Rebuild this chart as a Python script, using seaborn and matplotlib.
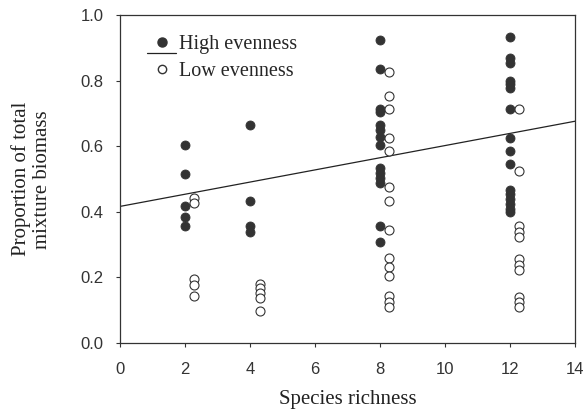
import numpy as np
import pandas as pd
import matplotlib
matplotlib.use('Agg')
import matplotlib.pyplot as plt
import seaborn as sns
from matplotlib.lines import Line2D

# Valores (riqueza de espécies x proporção da biomassa)
rich_high = [2]*5 + [4]*4 + [8]*14 + [12]*16
prop_high = [0.605, 0.516, 0.417, 0.386, 0.356,
             0.667, 0.435, 0.356, 0.340,
             0.924, 0.835, 0.715, 0.705, 0.667, 0.650, 0.630, 0.605,
             0.534, 0.518, 0.503, 0.488, 0.356, 0.307,
             0.935, 0.870, 0.855, 0.800, 0.790, 0.780, 0.715, 0.626,
             0.585, 0.546, 0.468, 0.455, 0.440, 0.425, 0.410, 0.400]
rich_low = [2.28]*5 + [4.31]*5 + [8.29]*14 + [12.29]*11
prop_low = [0.443, 0.427, 0.195, 0.177, 0.142,
            0.180, 0.167, 0.152, 0.137, 0.098,
            0.827, 0.755, 0.715, 0.626, 0.585, 0.475, 0.435, 0.346,
            0.259, 0.233, 0.206, 0.142, 0.126, 0.111,
            0.715, 0.524, 0.358, 0.340, 0.325, 0.256, 0.238, 0.223,
            0.140, 0.126, 0.111]

# Linha de regressão (intercepto e inclinação estimados)
reg_x = [0, 14]
reg_y = [0.417, 0.677]

df_high = pd.DataFrame({'x': rich_high, 'y': prop_high})
df_low = pd.DataFrame({'x': rich_low, 'y': prop_low})
df_reg = pd.DataFrame({'x': reg_x, 'y': reg_y})

sns.set_style('ticks')
plt.rcParams['font.family'] = ['Liberation Sans', 'DejaVu Sans']

fig = plt.figure(figsize=(5.84, 4.12), dpi=100)
ax = fig.add_axes([0.2055, 0.1675, 0.779, 0.795])

sns.lineplot(data=df_reg, x='x', y='y', ax=ax, color='#222222', linewidth=0.9)
sns.scatterplot(data=df_high, x='x', y='y', ax=ax, color='#333333',
                edgecolor='#333333', s=42, linewidth=0.6, zorder=3)
sns.scatterplot(data=df_low, x='x', y='y', ax=ax, facecolor='white',
                edgecolor='#333333', s=42, linewidth=0.8, zorder=3)

ax.set_xlim(0, 14)
ax.set_ylim(0, 1.0)
ax.set_xticks(range(0, 15, 2))
ax.set_yticks(np.arange(0, 1.01, 0.2))
ax.set_yticklabels([f'{v:.1f}' for v in np.arange(0, 1.01, 0.2)])
ax.tick_params(direction='out', length=3, width=0.8, labelsize=12,
               colors='#333333', labelcolor='#333333')
ax.tick_params(axis='y', pad=9)
ax.tick_params(axis='x', pad=11)
for s in ax.spines.values():
    s.set_color('#333333')
    s.set_linewidth(0.9)

ax.set_xlabel('Species richness', fontsize=15, family='Liberation Serif',
              color='#222222', labelpad=9)
ax.set_ylabel('Proportion of total\nmixture biomass', fontsize=15,
              family='Liberation Serif', color='#222222', labelpad=20,
              linespacing=1.2)

# Legenda
handles = [Line2D([], [], marker='o', ls='', color='#333333', markersize=6.5),
           Line2D([], [], marker='o', ls='', markerfacecolor='white',
                  markeredgecolor='#333333', markersize=6)]
leg = ax.legend(handles, ['High evenness', 'Low evenness'], loc='upper left',
                bbox_to_anchor=(0.022, 0.995), frameon=False, handletextpad=0.15,
                labelspacing=0.4, prop={'family': 'Liberation Serif', 'size': 14.5},
                handlelength=1.4)
ax.add_line(Line2D([0.06, 0.123], [0.885, 0.885], transform=ax.transAxes,
                   color='#222222', linewidth=0.9))

fig.savefig('out.png', dpi=100)
